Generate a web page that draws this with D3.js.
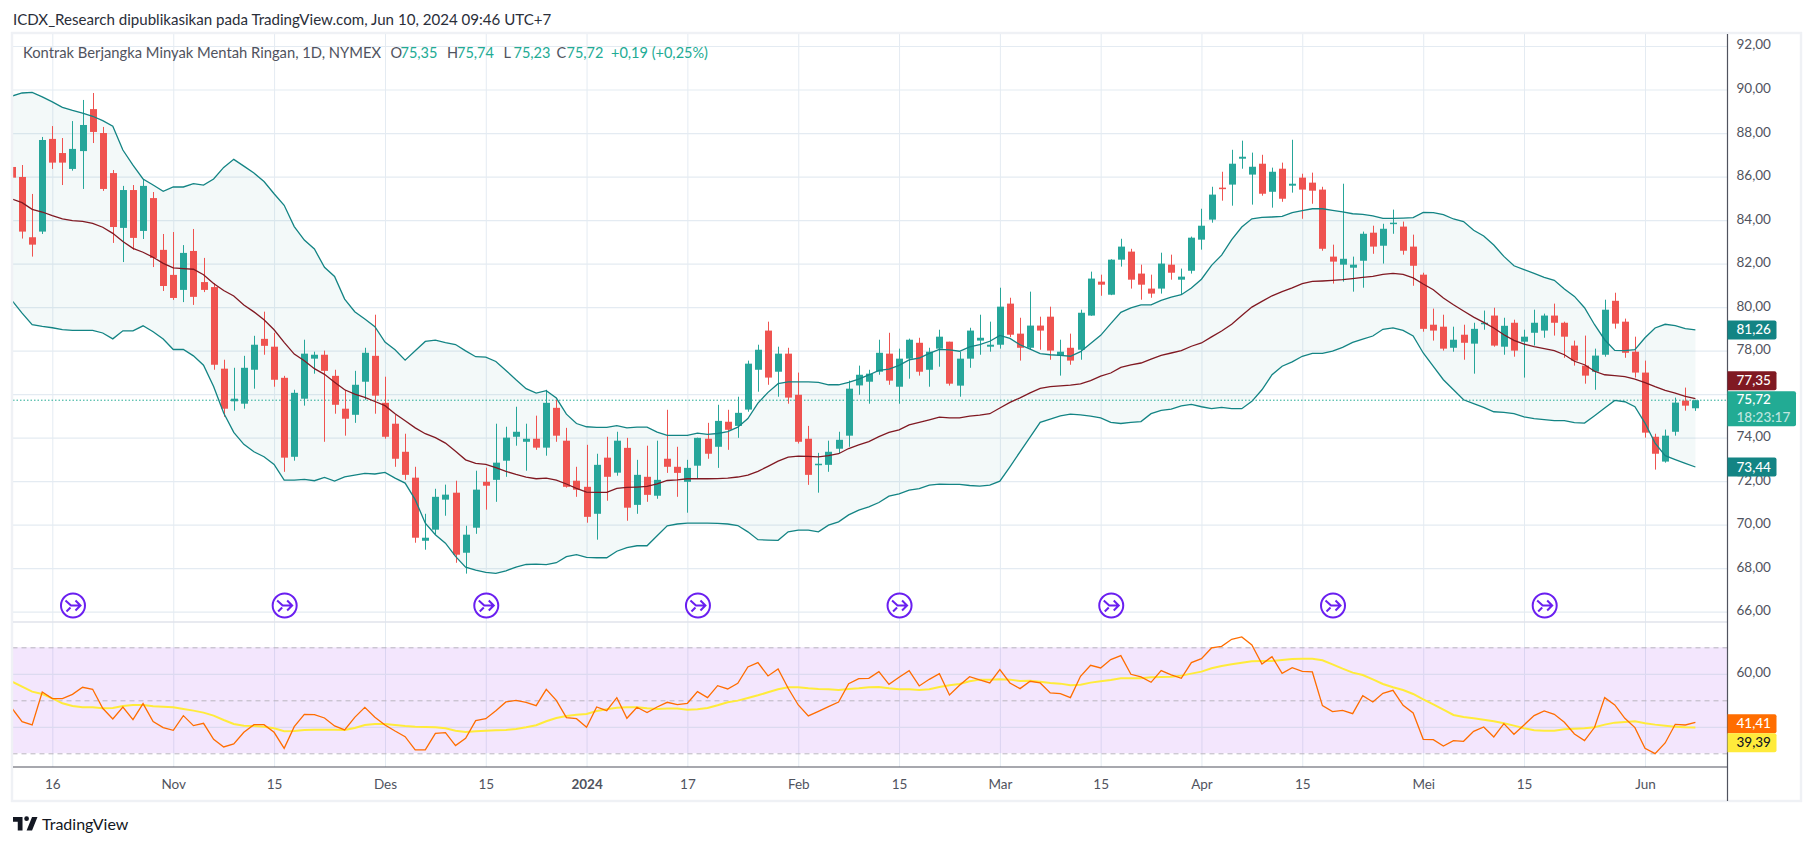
<!DOCTYPE html>
<html><head><meta charset="utf-8">
<style>html,body{margin:0;background:#fff}svg{display:block}text{font-family:Lato,"Open Sans",sans-serif}</style>
<script src="https://cdn.jsdelivr.net/npm/d3@7/dist/d3.min.js"></script>
</head><body><svg id="c" width="1815" height="846"></svg>
<script>
const opens=[86.44,85.98,83.21,83.47,87.73,87.08,86.35,87.17,89.10,88.00,
86.16,83.64,85.38,83.50,85.01,82.63,81.48,80.79,82.58,81.15,
80.92,77.17,75.67,75.56,77.12,78.54,78.18,76.75,73.12,75.79,
77.63,77.81,76.84,75.33,75.05,76.57,77.76,75.60,74.64,73.35,
72.16,69.26,69.77,71.15,71.47,68.71,69.86,71.97,72.06,72.94,
74.04,73.81,73.95,73.54,75.37,73.86,72.02,71.74,70.50,73.08,
72.39,73.53,70.91,72.20,71.33,73.03,72.66,71.97,72.71,73.95,
73.58,74.73,74.54,75.29,77.12,78.92,77.03,77.86,75.97,73.95,
72.75,72.75,73.49,74.09,76.40,76.57,77.03,77.86,76.34,77.63,
78.36,77.12,78.09,78.41,76.39,77.63,78.46,78.18,78.27,80.16,
78.78,78.13,79.15,79.56,77.77,78.13,78.04,79.61,81.17,80.57,
82.18,82.55,81.54,80.85,80.85,81.95,81.26,81.67,83.10,84.02,
85.49,85.63,86.82,86.09,86.59,85.30,86.36,85.58,85.95,85.72,
85.40,82.32,81.95,81.81,82.13,83.42,82.82,83.83,83.70,82.78,
81.49,79.19,79.10,78.13,78.73,78.32,79.24,79.61,78.18,79.28,
78.41,78.82,78.92,79.61,79.28,78.23,77.31,77.03,77.81,80.29,
79.33,77.95,76.99,74.04,72.90,74.27,75.70,75.35];
const highs=[86.50,86.53,85.20,87.82,88.32,87.77,88.55,89.52,89.84,88.28,
86.30,85.57,85.61,85.89,85.29,83.36,83.45,82.85,83.59,82.26,
81.10,77.58,77.21,77.76,78.68,79.79,78.82,76.84,76.20,78.50,
77.95,78.00,77.12,76.20,77.07,78.13,79.65,76.80,75.05,74.18,
72.66,70.50,71.65,71.84,72.02,69.95,72.48,72.62,74.64,74.50,
75.42,74.64,75.01,76.20,75.74,74.45,72.66,73.67,73.26,74.04,
74.27,73.99,72.98,73.63,73.86,75.28,73.58,72.98,74.00,74.68,
75.51,75.28,75.88,77.54,78.27,79.33,78.18,78.13,76.99,74.54,
73.30,73.86,74.27,76.62,77.31,77.12,78.50,78.82,78.09,78.55,
78.59,78.13,78.96,78.41,77.95,79.05,79.65,79.33,80.89,80.43,
79.51,80.71,79.56,80.02,78.50,78.78,79.88,81.63,81.49,82.20,
83.14,82.68,81.95,81.49,82.50,82.41,81.77,83.24,84.52,85.53,
86.22,87.23,87.65,87.10,87.00,86.41,86.64,87.69,86.13,86.18,
85.53,82.87,85.67,82.32,83.47,83.74,83.83,84.48,83.93,83.33,
81.58,79.93,79.65,79.10,79.19,79.28,79.84,79.97,79.51,79.42,
78.96,79.88,79.70,80.16,79.33,78.46,78.69,78.09,80.34,80.66,
79.47,78.64,77.54,74.18,74.37,75.84,76.30,75.74];
const lows=[85.90,83.15,82.32,83.36,86.35,85.61,86.27,85.43,87.54,85.34,
82.95,82.07,82.63,83.13,81.84,80.74,80.33,80.23,80.10,80.69,
77.12,74.96,75.24,75.33,76.25,77.81,76.34,72.43,72.94,75.47,
76.94,73.81,75.10,74.09,74.68,75.74,75.10,73.95,72.66,72.06,
69.17,68.85,69.54,70.41,68.25,67.75,69.58,70.69,71.05,72.20,
73.63,72.48,73.44,73.17,73.81,71.70,71.28,70.09,69.31,71.10,
72.25,70.18,70.50,71.05,71.19,72.38,71.28,70.55,72.11,73.03,
72.61,73.44,73.99,75.19,76.11,76.43,75.88,75.56,73.73,71.83,
71.47,72.43,73.28,73.58,75.97,75.56,76.89,76.43,75.56,76.71,
76.85,76.34,77.26,76.39,75.88,77.21,77.81,77.95,78.09,78.62,
77.54,78.04,78.04,77.58,76.85,77.35,77.58,79.60,80.52,80.55,
81.86,80.85,80.34,80.43,80.62,81.26,80.57,81.54,82.64,83.88,
84.89,84.66,86.36,84.71,85.12,84.57,84.84,85.26,84.06,84.75,
82.59,81.08,81.17,80.71,80.89,82.45,82.00,83.37,82.41,80.98,
78.87,78.46,78.00,77.95,77.58,76.94,78.96,78.18,77.81,77.72,
76.76,78.23,78.59,78.69,77.67,77.31,76.48,76.20,77.72,79.01,
77.67,76.76,74.00,72.53,72.85,74.09,75.24,75.23];
const closes=[85.95,83.47,82.87,87.68,86.64,86.64,87.27,88.37,88.05,85.43,
83.68,85.38,83.18,85.57,82.26,80.97,80.42,82.49,80.47,80.79,
77.35,75.33,75.79,77.21,78.27,78.22,76.66,73.08,76.06,77.86,
77.81,77.07,75.51,74.87,76.43,77.90,75.93,74.04,73.03,72.29,
69.40,69.40,71.28,71.38,68.62,69.54,71.61,71.79,72.85,74.00,
74.27,73.95,73.54,75.60,74.09,71.74,71.61,70.36,72.75,72.20,
73.86,70.78,72.29,71.37,72.06,72.66,72.38,72.61,73.99,73.26,
74.77,74.36,75.14,77.40,78.04,76.76,77.86,75.84,73.81,72.29,
72.80,73.35,73.90,76.25,76.89,76.94,77.90,76.62,77.63,78.50,
77.03,77.95,78.64,76.48,77.63,78.92,78.59,78.27,80.02,78.73,
78.13,79.15,78.92,78.00,77.95,77.54,79.74,81.31,81.03,82.18,
82.78,81.26,81.03,80.62,82.00,81.58,81.40,83.19,83.74,85.17,
85.44,86.59,86.91,86.45,85.21,86.22,84.98,85.67,85.40,85.35,
82.68,82.09,82.22,81.95,83.37,82.78,83.60,83.88,82.59,81.90,
79.00,78.92,78.09,78.50,78.36,79.00,79.28,78.23,79.14,78.00,
78.64,79.28,79.61,79.28,78.64,77.54,76.85,77.77,79.88,79.24,
77.90,76.99,74.23,73.26,74.09,75.61,75.47,75.72];
const bbUpper=[89.70,89.84,89.87,89.66,89.43,89.18,89.04,88.92,88.77,88.57,
88.31,87.22,86.52,85.89,85.61,85.32,85.52,85.52,85.67,85.61,
85.89,86.42,86.79,86.48,86.16,85.77,85.21,84.68,83.70,83.08,
82.67,81.83,81.41,80.37,79.79,79.45,79.10,78.39,78.04,77.56,
77.99,78.42,78.48,78.37,78.28,77.99,77.72,77.70,77.50,77.09,
76.66,76.25,76.05,76.16,75.82,75.08,74.65,74.50,74.47,74.47,
74.55,74.45,74.48,74.48,74.25,74.10,74.10,74.10,74.21,74.15,
74.19,74.28,74.48,74.88,75.59,76.08,76.48,76.56,76.56,76.56,
76.54,76.43,76.43,76.54,76.69,76.88,77.09,77.15,77.32,77.57,
77.66,77.87,78.06,78.03,77.97,78.17,78.27,78.43,78.70,78.56,
78.27,78.07,77.86,77.81,77.78,77.74,77.95,78.33,78.70,79.24,
79.76,79.96,80.10,80.10,80.31,80.46,80.57,80.88,81.28,81.92,
82.39,83.10,83.68,84.06,84.12,84.14,84.17,84.34,84.43,84.52,
84.52,84.45,84.38,84.29,84.26,84.19,84.08,84.08,84.09,84.11,
84.35,84.34,84.25,84.05,83.93,83.53,83.27,82.85,82.33,81.90,
81.72,81.55,81.37,81.23,80.83,80.49,79.97,79.19,78.50,78.01,
78.00,78.04,78.59,79.04,79.21,79.15,79.01,78.95];
const bbBasis=[84.97,84.80,84.49,84.37,84.20,84.05,83.97,83.94,83.85,83.67,
83.39,83.01,82.70,82.52,82.29,82.01,81.80,81.77,81.74,81.49,
81.08,80.76,80.51,80.10,79.78,79.42,78.96,78.38,77.84,77.53,
77.17,76.91,76.55,76.20,76.00,75.85,75.66,75.47,75.10,74.78,
74.45,74.18,74.00,73.75,73.37,72.98,72.82,72.77,72.62,72.45,
72.31,72.19,72.11,72.14,72.05,71.87,71.67,71.50,71.48,71.48,
71.67,71.71,71.73,71.76,71.88,72.03,72.06,72.11,72.11,72.11,
72.12,72.14,72.19,72.28,72.45,72.68,72.92,73.10,73.15,73.14,
73.12,73.17,73.26,73.50,73.67,73.82,74.05,74.24,74.36,74.59,
74.70,74.82,74.94,74.91,74.91,74.99,75.03,75.10,75.36,75.62,
75.83,76.06,76.26,76.34,76.38,76.41,76.47,76.62,76.83,76.97,
77.23,77.34,77.43,77.61,77.78,77.89,78.00,78.20,78.35,78.63,
78.90,79.21,79.61,80.00,80.26,80.52,80.71,80.88,81.08,81.18,
81.20,81.23,81.26,81.31,81.37,81.41,81.50,81.55,81.50,81.34,
81.06,80.80,80.42,80.11,79.82,79.54,79.30,79.04,78.73,78.47,
78.30,78.18,78.09,78.00,77.81,77.51,77.35,77.05,76.89,76.85,
76.80,76.69,76.53,76.34,76.17,76.05,75.90,75.79];
const bbLower=[80.30,79.72,79.19,79.11,79.05,78.96,78.93,78.93,78.93,78.81,
78.54,78.91,78.91,79.14,78.87,78.53,78.05,78.05,77.76,77.33,
76.35,75.13,74.24,73.69,73.35,73.12,72.77,72.05,72.05,72.08,
72.02,72.17,72.00,72.20,72.28,72.36,72.33,72.40,72.14,71.91,
71.15,70.07,69.54,69.15,68.54,68.05,67.91,67.81,67.76,67.88,
68.05,68.17,68.19,68.16,68.25,68.53,68.62,68.50,68.48,68.48,
68.78,68.95,69.03,69.03,69.49,69.95,70.03,70.07,70.07,70.07,
70.06,70.03,69.96,69.67,69.31,69.29,69.28,69.67,69.75,69.75,
69.67,69.98,70.13,70.45,70.67,70.82,71.02,71.31,71.42,71.59,
71.66,71.82,71.86,71.85,71.85,71.80,71.77,71.82,72.00,72.66,
73.35,74.02,74.70,74.85,75.00,75.08,75.05,74.99,74.91,74.70,
74.65,74.70,74.74,75.10,75.25,75.31,75.46,75.53,75.42,75.33,
75.39,75.33,75.33,75.67,76.20,76.89,77.28,77.48,77.74,77.87,
77.87,77.98,78.15,78.38,78.53,78.67,78.98,79.04,78.93,78.67,
77.89,77.28,76.66,76.20,75.74,75.56,75.39,75.19,75.16,75.10,
74.95,74.87,74.83,74.78,74.78,74.69,74.67,75.01,75.36,75.71,
75.65,75.42,74.67,73.75,73.17,72.99,72.82,72.65];
const rsiValues=[46.98,41.95,40.69,53.14,50.63,50.63,52.26,54.91,54.15,46.98,
42.96,47.48,42.70,48.74,41.95,39.69,38.68,44.21,40.44,41.32,
35.28,32.39,33.52,37.92,40.82,40.82,37.92,31.89,40.06,44.72,
44.59,43.33,40.31,38.81,43.58,47.36,43.58,40.69,38.43,36.29,
31.26,31.26,37.55,37.80,32.89,35.66,42.33,43.08,46.10,49.37,
50.00,49.25,47.99,54.15,50.00,43.46,43.08,39.81,47.48,46.10,
51.01,43.21,47.36,45.35,47.48,49.25,48.36,48.87,53.27,51.01,
55.53,54.28,56.42,62.58,64.21,59.18,61.82,54.53,48.24,44.09,
45.85,47.61,49.37,56.29,58.18,58.30,60.82,56.04,58.68,61.19,
55.41,57.92,60.06,52.01,55.66,58.93,57.67,56.54,61.57,56.54,
54.40,57.17,56.54,52.77,52.52,51.01,59.06,63.21,62.20,65.35,
66.86,59.81,58.81,56.79,61.19,59.56,58.30,64.21,65.72,69.75,
70.38,73.02,73.90,70.88,63.71,66.48,60.19,62.33,60.94,60.69,
47.99,45.72,46.23,44.97,51.76,49.37,52.64,53.77,48.11,45.22,
35.28,35.16,32.77,34.78,34.53,38.30,39.94,36.17,41.19,37.17,
40.69,44.21,45.97,44.72,41.70,37.30,34.78,39.81,51.01,48.24,
43.21,39.69,31.89,29.87,33.90,40.94,40.69,41.70];
const rsiAverage=[57.04,55.16,53.27,52.39,50.75,48.87,47.86,47.36,47.36,46.98,
47.11,47.86,48.24,48.24,47.74,47.61,47.36,46.73,46.10,45.35,
44.21,42.58,41.07,40.44,40.31,40.06,39.43,38.30,38.43,38.81,
38.93,38.93,38.93,38.81,39.56,40.69,41.07,41.07,40.69,40.31,
40.06,39.94,39.81,39.43,38.55,38.05,38.30,38.55,38.68,38.81,
39.18,39.81,40.57,42.08,43.33,44.09,44.59,44.84,45.97,46.60,
47.23,47.36,47.36,46.98,46.73,46.86,46.86,46.48,46.60,47.11,
48.11,49.25,49.87,50.88,51.89,53.02,54.15,54.91,54.91,54.53,
54.28,54.15,53.90,54.28,54.53,54.91,55.03,54.53,54.15,54.15,
53.90,54.15,55.03,55.66,56.16,57.17,57.80,57.80,57.92,57.80,
57.30,57.42,57.04,56.54,56.29,55.66,55.91,56.67,57.17,57.67,
58.30,58.30,58.30,58.68,58.81,58.93,59.31,60.06,60.82,62.08,
62.96,63.58,64.21,64.72,64.84,64.84,65.22,65.60,65.72,65.72,
65.09,63.58,61.95,60.44,59.56,57.92,56.16,54.91,53.90,52.39,
50.38,48.49,46.48,44.47,43.71,43.21,42.70,42.08,41.32,40.44,
39.43,38.68,38.55,38.55,39.06,39.31,39.43,39.81,40.82,41.57,
41.82,42.08,41.32,40.82,40.44,40.06,39.81,39.69];
const priceTicks=[66,68,70,72,74,76,78,80,82,84,86,88,90,92];
const hiddenPriceLabels=[76];
const rsiGridTicks=[40,60];
const rsiDashTicks=[30,50,70];
const timeTickIndex=[4,16,26,37,47,57,67,78,88,98,108,118,128,140,150,162];
const timeTickLabels=["16","Nov","15","Des","15","2024","17","Feb","15","Mar","15","Apr","15","Mei","15","Jun"];
const eventIndex=[6,27,47,68,88,109,131,152];
const titleText="ICDX_Research dipublikasikan pada TradingView.com, Jun 10, 2024 09:46 UTC+7";
const symbolText="Kontrak Berjangka Minyak Mentah Ringan, 1D, NYMEX";
const ohlcLabels=[["O","75,35"],["H","75,74"],["L","75,23"],["C","75,72"]];
const changeText="+0,19 (+0,25%)";
const upperLabel=81.26, basisLabel=77.35, lowerLabel=73.44, lastPrice=75.72, rsiLabel=41.41, rsiAvgLabel=39.39;
const countdown="18:23:17";

const L=13,AX=1727.5,R=1801,T=34,SEP=622,TB=767,B=801;
const N=closes.length;
const x=d3.scaleLinear().domain([0,N-1]).range([12,1695.4]);
const y=d3.scaleLinear().domain([66,92]).range([611.7,46]);
const ry=d3.scaleLinear().domain([30,70]).range([753.3,647.3]);
const idx=d3.range(N);
const fmt=v=>d3.format(".2f")(v).replace(".",",");
const svg=d3.select("#c");
const GRID="#e4ebf2",TXT="#50535e",UP="#26a69a",DN="#ef5350",BAND="#138484",BAS="#801922",TEAL="#22ab94";
const defs=svg.append("defs");
defs.append("clipPath").attr("id","cp").append("rect").attr("x",L).attr("y",T).attr("width",AX-L).attr("height",SEP-T);
defs.append("clipPath").attr("id","cr").append("rect").attr("x",L).attr("y",SEP).attr("width",AX-L).attr("height",TB-SEP);

// grid
const vg=svg.append("g").call(d3.axisBottom(x).tickValues(timeTickIndex).tickSize(TB-T).tickFormat(""))
  .attr("transform",`translate(0,${T})`);
vg.select(".domain").remove();vg.selectAll("line").attr("stroke",GRID).attr("stroke-width",1);
const hg=svg.append("g").call(d3.axisLeft(y).tickValues(priceTicks).tickSize(AX-L).tickFormat(""))
  .attr("transform",`translate(${AX},0)`);
hg.select(".domain").remove();hg.selectAll("line").attr("stroke",GRID).attr("stroke-width",1.2);

// RSI band
svg.append("rect").attr("x",L).attr("width",AX-L).attr("y",ry(70)).attr("height",ry(30)-ry(70)).attr("fill","#8705eb").attr("fill-opacity",.1);
const rg=svg.append("g").call(d3.axisLeft(ry).tickValues(rsiGridTicks).tickSize(AX-L).tickFormat(""))
  .attr("transform",`translate(${AX},0)`);
rg.select(".domain").remove();rg.selectAll("line").attr("stroke","#dcdaf0").attr("stroke-width",1.2);
const rd=svg.append("g").call(d3.axisLeft(ry).tickValues(rsiDashTicks).tickSize(AX-L).tickFormat(""))
  .attr("transform",`translate(${AX},0)`);
rd.select(".domain").remove();rd.selectAll("line").attr("stroke","#b9b6bf").attr("stroke-width",1).attr("stroke-dasharray","5,4");

// main pane
const pane=svg.append("g").attr("clip-path","url(#cp)");
pane.append("path").datum(idx).attr("fill",BAND).attr("fill-opacity",.05)
  .attr("d",d3.area().x(i=>x(i)).y0(i=>y(bbLower[i])).y1(i=>y(bbUpper[i])));
pane.append("line").attr("x1",L).attr("x2",AX).attr("y1",y(lastPrice)).attr("y2",y(lastPrice))
  .attr("stroke",TEAL).attr("stroke-width",1).attr("stroke-dasharray","1.5,2");
const cg=pane.append("g").selectAll("g").data(idx).join("g");
cg.append("line").attr("x1",i=>Math.round(x(i))+.5).attr("x2",i=>Math.round(x(i))+.5)
  .attr("y1",i=>y(highs[i])).attr("y2",i=>y(lows[i]))
  .attr("stroke",i=>closes[i]>=opens[i]?UP:DN).attr("stroke-width",1);
cg.append("rect").attr("x",i=>Math.round(x(i))-3).attr("width",7)
  .attr("y",i=>y(Math.max(opens[i],closes[i])))
  .attr("height",i=>Math.max(1.5,Math.abs(y(opens[i])-y(closes[i]))))
  .attr("fill",i=>closes[i]>=opens[i]?UP:DN);
const bl=d3.line().x(i=>x(i));
[[bbUpper,BAND],[bbLower,BAND],[bbBasis,BAS]].forEach(([a,c])=>{
  pane.append("path").datum(idx).attr("fill","none").attr("stroke",c).attr("stroke-width",1.3)
    .attr("d",bl.y(i=>y(a[i])));
});

// event markers
const ev=svg.append("g").selectAll("g").data(eventIndex).join("g")
  .attr("transform",d=>`translate(${x(d)+.5},605.5)`);
ev.append("circle").attr("r",12).attr("fill","#fff").attr("stroke","#6a1ff0").attr("stroke-width",2);
ev.append("path").attr("fill","none").attr("stroke","#6a1ff0").attr("stroke-width",2)
  .attr("d","M-7.5,-5 L-2,0 L7.5,0 M2.5,-5 L7.5,0 L2.5,5 M-6.5,6 L-2.5,2");

// RSI lines
const rp=svg.append("g").attr("clip-path","url(#cr)");
rp.append("path").datum(idx).attr("fill","none").attr("stroke","#ffeb3b").attr("stroke-width",2)
  .attr("d",d3.line().x(i=>x(i)).y(i=>ry(rsiAverage[i])));
rp.append("path").datum(idx).attr("fill","none").attr("stroke","#ff6d00").attr("stroke-width",1.3)
  .attr("d",d3.line().x(i=>x(i)).y(i=>ry(rsiValues[i])));

// frame and separators
svg.append("rect").attr("x",12).attr("y",T-1).attr("width",R-12).attr("height",B-T+1).attr("fill","none").attr("stroke","#eff1f5").attr("stroke-width",2.4);
svg.append("line").attr("x1",L).attr("x2",AX).attr("y1",SEP).attr("y2",SEP).attr("stroke","#e0e3eb").attr("stroke-width",1.5);
svg.append("line").attr("x1",L).attr("x2",AX).attr("y1",TB).attr("y2",TB).attr("stroke",TXT).attr("stroke-width",1.2);
svg.append("line").attr("x1",AX).attr("x2",AX).attr("y1",T).attr("y2",B).attr("stroke",TXT).attr("stroke-width",1.2);

// axes text
const FS=13.5;
const ya=svg.append("g").attr("transform",`translate(${AX},0)`)
  .call(d3.axisRight(y).tickValues(priceTicks.filter(t=>!hiddenPriceLabels.includes(t))).tickSize(0).tickPadding(9).tickFormat(fmt));
ya.select(".domain").remove();
ya.selectAll("text").attr("fill",TXT).style("font-size",FS+"px").style("font-family","Lato,sans-serif").attr("dy","0.22em");
const ra=svg.append("g").attr("transform",`translate(${AX},0)`).call(d3.axisRight(ry).tickValues([60]).tickSize(0).tickPadding(9).tickFormat(fmt));
ra.select(".domain").remove();
ra.selectAll("text").attr("fill",TXT).style("font-size",FS+"px").style("font-family","Lato,sans-serif").attr("dy","0.2em");
const xa=svg.append("g").attr("transform",`translate(0,${TB})`).call(d3.axisBottom(x).tickValues(timeTickIndex).tickSize(0).tickPadding(12).tickFormat((d,i)=>timeTickLabels[i]));
xa.select(".domain").remove();
xa.selectAll("text").attr("fill",TXT).style("font-size",FS+"px").style("font-family","Lato,sans-serif")
  .style("font-weight",(d,i)=>timeTickLabels[i]==="2024"?"700":"400");

// last value labels
function tag(yTop,h,w,fill,lines,tcol){
  const g=svg.append("g");
  g.append("path").attr("fill",fill).attr("d",`M${AX},${yTop}H${AX+w-2}a2,2 0 0 1 2,2V${yTop+h-2}a2,2 0 0 1 -2,2H${AX}Z`);
  lines.forEach((t,k)=>g.append("text").attr("x",AX+9).attr("y",yTop+h/lines.length*(k+.5)+4.5).attr("fill",tcol).attr("fill-opacity",k?.72:1)
    .style("font-size",FS+"px").style("font-weight",500).text(t));
}
const lastI=N-1;
tag(y(bbUpper[lastI])-9.5,19,49,BAND,[fmt(upperLabel)],"#fff");
tag(y(lastPrice)-9,35,68.5,TEAL,[fmt(lastPrice),countdown],"#fff");
tag(y(lastPrice)-9-20,19,49,BAS,[fmt(basisLabel)],"#fff");
tag(y(bbLower[lastI])-9.5,19,49,BAND,[fmt(lowerLabel)],"#fff");
tag(ry(rsiValues[lastI])-8,19,49,"#ff6d00",[fmt(rsiLabel)],"#fff");
tag(ry(rsiValues[lastI])+11,19,49,"#ffeb3b",[fmt(rsiAvgLabel)],"#131722");

// header, legend, logo
svg.append("text").attr("x",13).attr("y",25).attr("fill","#2a2e39").style("font-size","15.1px").text(titleText);
svg.append("text").attr("x",23).attr("y",58).style("font-size","14.75px").attr("fill",TXT).text(symbolText);
const legX=[390.5,447,503.5,556.5];
ohlcLabels.forEach(([a,b],k)=>{
  svg.append("text").attr("x",legX[k]).attr("y",58).style("font-size","14.5px").attr("fill",TXT).text(a);
  svg.append("text").attr("x",legX[k]+10).attr("y",58).style("font-size","14.5px").attr("fill",TEAL).text(b);
});
svg.append("text").attr("x",611).attr("y",58).style("font-size","14.5px").attr("fill",TEAL).text(changeText);
svg.append("path").attr("transform","translate(13,817) scale(.68)").attr("fill","#131722")
  .attr("d","M14 0H0v7h7v13h7V0Zm14 20h-8L28 0h8l-8 20Zm-8-14a3.5 3.5 0 1 0 0-7 3.5 3.5 0 0 0 0 7Z");
svg.append("text").attr("x",42).attr("y",830).attr("fill","#131722").style("font-size","16px").text("TradingView");
</script></body></html>
